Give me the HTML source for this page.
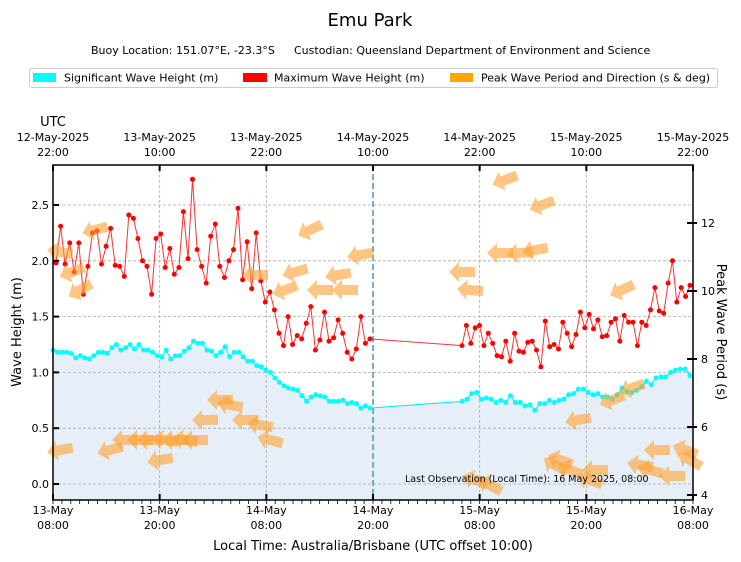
<!DOCTYPE html>
<html><head><meta charset="utf-8"><style>
html,body{margin:0;padding:0;background:#fff;}
svg{display:block;font-family:"DejaVu Sans","Liberation Sans",sans-serif;}
</style></head><body>
<svg id="s" width="741" height="562" viewBox="0 0 741 562" xmlns="http://www.w3.org/2000/svg">
<text x="370" y="26" font-size="18" text-anchor="middle">Emu Park</text>
<text x="91" y="54" font-size="11">Buoy Location: 151.07°E, -23.3°S</text>
<text x="294" y="54" font-size="11">Custodian: Queensland Department of Environment and Science</text>
<rect x="29.5" y="68.5" width="688" height="19" fill="#fff" stroke="#ccc" rx="2"/>
<rect x="33" y="73" width="23" height="9" fill="#00ffff"/>
<text x="64" y="81.5" font-size="11">Significant Wave Height (m)</text>
<rect x="243" y="73" width="24" height="9" fill="#ff0000"/>
<text x="274" y="81.5" font-size="11">Maximum Wave Height (m)</text>
<rect x="450" y="73" width="23" height="9" fill="#ffa500"/>
<text x="481" y="81.5" font-size="11">Peak Wave Period and Direction (s &amp; deg)</text>
<text x="53" y="126" font-size="13" text-anchor="middle">UTC</text>
<g id="g"></g>
</svg>
<script>
const g=document.getElementById('g');let h='';
const L=53,R=693,T=165,B=500;
const yH=v=>484-v*111.6;
const px=hr=>L+hr*640/72;
const hs1=[1.20,1.18,1.18,1.18,1.17,1.13,1.15,1.13,1.12,1.15,1.18,1.18,1.17,1.22,1.25,1.20,1.22,1.25,1.21,1.25,1.20,1.20,1.18,1.15,1.14,1.20,1.12,1.15,1.15,1.19,1.22,1.28,1.26,1.26,1.20,1.19,1.15,1.18,1.23,1.14,1.18,1.18,1.14,1.10,1.10,1.06,1.05,1.02,1.00,0.95,0.91,0.88,0.86,0.85,0.84,0.79,0.74,0.78,0.80,0.79,0.78,0.74,0.74,0.74,0.75,0.72,0.73,0.72,0.68,0.70,0.68];
const hm1=[1.98,2.31,1.97,2.16,1.90,2.16,1.70,1.95,2.25,2.27,1.97,2.13,2.29,1.96,1.95,1.86,2.41,2.38,2.20,2.00,1.95,1.70,2.20,2.24,1.94,2.11,1.88,1.94,2.44,2.02,2.73,2.10,1.95,1.80,2.22,2.33,1.95,1.85,2.00,2.10,2.47,1.83,2.17,1.75,2.25,1.82,1.63,1.72,1.56,1.35,1.24,1.50,1.25,1.33,1.30,1.44,1.59,1.20,1.29,1.54,1.28,1.31,1.47,1.35,1.18,1.12,1.21,1.50,1.26,1.30];
const hm2=[1.24,1.42,1.26,1.40,1.42,1.24,1.35,1.26,1.15,1.14,1.28,1.10,1.35,1.19,1.18,1.27,1.28,1.20,1.05,1.46,1.23,1.25,1.21,1.45,1.35,1.23,1.34,1.54,1.40,1.52,1.39,1.47,1.32,1.33,1.45,1.48,1.28,1.51,1.45,1.45,1.24,1.45,1.42,1.56,1.76,1.55,1.53,1.80,2.00,1.63,1.76,1.68,1.78];
const hs2=[0.74,0.76,0.81,0.82,0.76,0.77,0.76,0.73,0.75,0.73,0.79,0.73,0.73,0.70,0.71,0.66,0.72,0.72,0.75,0.73,0.75,0.76,0.80,0.81,0.85,0.85,0.82,0.80,0.81,0.78,0.78,0.76,0.80,0.86,0.83,0.82,0.84,0.87,0.92,0.89,0.95,0.96,0.96,1.00,1.02,1.03,1.03,0.97];
function pts(a,x0,x1){const n=a.length;return a.map((v,i)=>[x0+(x1-x0)*i/(n-1),yH(v)]);}
const S1=pts(hs1,53,370),S2=pts(hs2,462,690),M1=pts(hm1,56,370),M2=pts(hm2,462,690);
const all=S1.concat(S2);
h+=`<path d="M${L},${B} L${L},${all[0][1]} `+all.map(p=>`L${p[0].toFixed(1)},${p[1].toFixed(1)}`).join(' ')+` L${R},${all[all.length-1][1]} L${R},${B}Z" fill="#e6eff7"/>`;
for(let v=0;v<=2.5;v+=0.5){h+=`<line x1="${L}" x2="${R}" y1="${yH(v)}" y2="${yH(v)}" stroke="#aaa" stroke-dasharray="3,2" stroke-width="0.8"/>`;}
for(let i=1;i<6;i++){const x=px(i*12);if(i!=3)h+=`<line x1="${x}" x2="${x}" y1="${T}" y2="${B}" stroke="#aaa" stroke-dasharray="3,2" stroke-width="0.8"/>`;}
h+=`<line x1="373" x2="373" y1="${T}" y2="${B}" stroke="#4a90c8" stroke-dasharray="6,3" stroke-width="1.5"/>`;
const line=(P,c)=>`<polyline points="${P.map(p=>p[0].toFixed(1)+','+p[1].toFixed(1)).join(' ')}" fill="none" stroke="${c}" stroke-width="1"/>`;
h+=line(all,'#00e5ff');h+=line(M1.concat(M2),'#ff3030');
all.forEach(p=>h+=`<circle cx="${p[0].toFixed(1)}" cy="${p[1].toFixed(1)}" r="2.5" fill="#00ffff"/>`);
M1.concat(M2).forEach(p=>h+=`<circle cx="${p[0].toFixed(1)}" cy="${p[1].toFixed(1)}" r="2.5" fill="#ff0000"/>`);
const A=[[60,252,10],[72,272,-20],[60,450,-10],[80,290,-30],[95,230,-15],[110,450,-15],[125,440,0],[140,440,0],[150,440,0],[160,460,-10],[165,440,10],[175,440,0],[185,440,10],[195,440,0],[205,420,0],[220,400,0],[230,405,10],[245,420,0],[260,425,10],[270,440,15],[255,275,0],[285,290,-20],[295,272,-15],[310,230,-25],[320,290,0],[338,275,-10],[345,290,0],[360,255,-10],
[475,480,20],[490,485,30],[462,272,0],[470,290,5],[505,180,-20],[542,205,-20],[500,253,0],[520,253,-5],[535,250,-10],[555,465,30],[560,460,20],[570,470,20],[595,470,0],[578,420,-10],[590,480,20],[612,400,-20],[622,290,-25],[632,388,-20],[640,465,10],[650,470,15],[657,450,0],[672,476,0],[685,450,20],[690,460,30]];
A.forEach(a=>h+=`<g transform="translate(${a[0]},${a[1]}) rotate(${a[2]})" opacity="0.6"><polygon points="-13,0 -3,-10 -3,-5 13,-5 13,5 -3,5 -3,10" fill="#ffa030"/></g>`);
h+=`<rect x="${L}" y="${T}" width="${R-L}" height="${B-T}" fill="none" stroke="#000" stroke-width="1.5"/>`;
for(let v=0;v<=2.5;v+=0.5){const y=yH(v);h+=`<line x1="${L}" x2="${L+6}" y1="${y}" y2="${y}" stroke="#000" stroke-width="2"/><text x="${L-4}" y="${y+4}" font-size="11" text-anchor="end">${v.toFixed(1)}</text>`;}
for(let t=4;t<=12;t+=2){const y=495-(t-4)*34;h+=`<line x1="${R-6}" x2="${R+4}" y1="${y}" y2="${y}" stroke="#000" stroke-width="2"/><text x="${R+8}" y="${y+4}" font-size="11">${t}</text>`;}
const bl=[['13-May','08:00'],['13-May','20:00'],['14-May','08:00'],['14-May','20:00'],['15-May','08:00'],['15-May','20:00'],['16-May','08:00']];
const tl=[['12-May-2025','22:00'],['13-May-2025','10:00'],['13-May-2025','22:00'],['14-May-2025','10:00'],['14-May-2025','22:00'],['15-May-2025','10:00'],['15-May-2025','22:00']];
for(let hr=0;hr<=72;hr++){const x=px(hr);h+=`<line x1="${x}" x2="${x}" y1="${B}" y2="${B+4}" stroke="#000" stroke-width="0.8"/>`;}
for(let i=0;i<7;i++){const x=px(i*12);
h+=`<line x1="${x}" x2="${x}" y1="${B-6}" y2="${B}" stroke="#000" stroke-width="2"/><line x1="${x}" x2="${x}" y1="${T}" y2="${T+6}" stroke="#000" stroke-width="2"/>`;
h+=`<text x="${x}" y="${B+14}" font-size="11" text-anchor="middle">${bl[i][0]}</text><text x="${x}" y="${B+29}" font-size="11" text-anchor="middle">${bl[i][1]}</text>`;
h+=`<text x="${x}" y="141" font-size="11" text-anchor="middle">${tl[i][0]}</text><text x="${x}" y="156" font-size="11" text-anchor="middle">${tl[i][1]}</text>`;}
h+=`<text x="373" y="550" font-size="13" text-anchor="middle">Local Time: Australia/Brisbane (UTC offset 10:00)</text>`;
h+=`<text transform="translate(21,332) rotate(-90)" font-size="13" text-anchor="middle">Wave Height (m)</text>`;
h+=`<text transform="translate(717,332) rotate(90)" font-size="13" text-anchor="middle">Peak Wave Period (s)</text>`;
h+=`<text x="405" y="482" font-size="9.5">Last Observation (Local Time): 16 May 2025, 08:00</text>`;
g.innerHTML=h;
</script>
</body></html>
